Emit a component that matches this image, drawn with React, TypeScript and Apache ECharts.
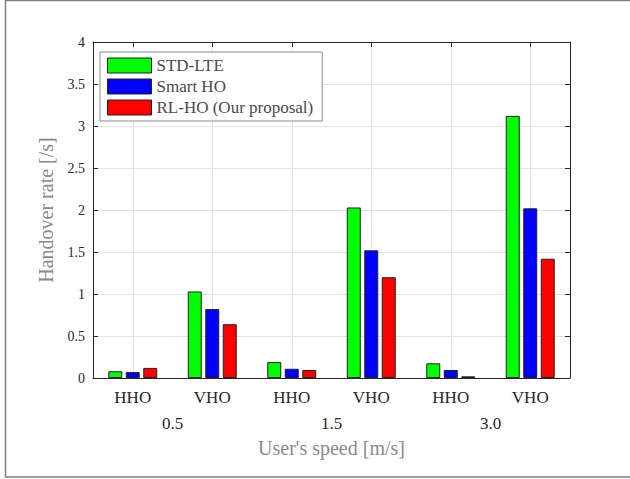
import React, { useEffect, useRef } from "react";
import * as echarts from "echarts";

const categories = ["HHO", "VHO", "HHO", "VHO", "HHO", "VHO"];
const speeds = ["0.5", "1.5", "3.0"];
const seriesNames = ["STD-LTE", "Smart HO", "RL-HO (Our proposal)"];
const stdLte = [0.08, 1.03, 0.19, 2.03, 0.175, 3.12];
const smartHo = [0.07, 0.82, 0.11, 1.52, 0.095, 2.02];
const rlHo = [0.12, 0.64, 0.095, 1.2, 0.02, 1.42];
const colors = ["#00ff00", "#0000ff", "#ff0000"];

const FONT = "Liberation Serif";

export default function App() {
  const ref = useRef<HTMLDivElement>(null);
  useEffect(() => {
    if (!ref.current) return;
    const chart = echarts.init(ref.current, null, { renderer: "svg" });
    const values = [stdLte, smartHo, rlHo];
    const axisLineStyle = { color: "#262626", width: 1 };
    chart.setOption({
      animation: false,
      backgroundColor: "#ffffff",
      graphic: [
        {
          type: "rect",
          shape: { x: 5.5, y: 0.5, width: 700, height: 476.5 },
          style: { fill: "none", stroke: "#808080", lineWidth: 1.5 },
          silent: true,
          z: -10,
        },
      ],
      grid: { left: 93, top: 42, width: 477, height: 336, containLabel: false },
      legend: {
        data: seriesNames,
        orient: "vertical",
        left: 100,
        top: 52,
        padding: [5, 9, 5, 7],
        itemWidth: 44,
        itemHeight: 15,
        itemGap: 4,
        icon: "rect",
        borderColor: "#8c8c8c",
        borderWidth: 1,
        backgroundColor: "#ffffff",
        textStyle: { fontFamily: FONT, fontSize: 17, color: "#4a4a4a", lineHeight: 16 },
        itemStyle: { borderColor: "#222222", borderWidth: 1 },
      },
      xAxis: [
        {
          type: "category",
          data: categories,
          position: "bottom",
          axisLine: { show: true, lineStyle: axisLineStyle },
          axisTick: { show: true, inside: true, alignWithLabel: true, length: 5, lineStyle: axisLineStyle },
          axisLabel: { fontFamily: FONT, fontSize: 17, color: "#262626", margin: 11 },
          splitLine: { show: true, alignWithLabel: true, lineStyle: { color: "#e3e3e3", width: 1 } },
          name: "User's speed [m/s]",
          nameLocation: "middle",
          nameGap: 60,
          nameTextStyle: { fontFamily: FONT, fontSize: 20, color: "#8a8a8a" },
        },
        {
          type: "category",
          data: speeds,
          position: "bottom",
          axisLine: { show: false },
          axisTick: { show: false },
          axisLabel: { fontFamily: FONT, fontSize: 17, color: "#262626", margin: 37 },
          splitLine: { show: false },
        },
        {
          type: "category",
          data: categories,
          position: "top",
          axisLine: { show: true, lineStyle: axisLineStyle },
          axisTick: { show: true, inside: true, alignWithLabel: true, length: 5, lineStyle: axisLineStyle },
          axisLabel: { show: false },
          splitLine: { show: false },
        },
      ],
      yAxis: [
        {
          type: "value",
          min: 0,
          max: 4,
          interval: 0.5,
          position: "left",
          axisLine: { show: true, lineStyle: axisLineStyle },
          axisTick: { show: true, inside: true, length: 5, lineStyle: axisLineStyle },
          axisLabel: { fontFamily: FONT, fontSize: 14, color: "#262626", margin: 8 },
          splitLine: { show: true, lineStyle: { color: "#e3e3e3", width: 1 } },
          name: "Handover rate [/s]",
          nameLocation: "middle",
          nameGap: 37,
          nameTextStyle: { fontFamily: FONT, fontSize: 20, color: "#8a8a8a" },
        },
        {
          type: "value",
          min: 0,
          max: 4,
          interval: 0.5,
          position: "right",
          axisLine: { show: true, lineStyle: axisLineStyle },
          axisTick: { show: true, inside: true, length: 5, lineStyle: axisLineStyle },
          axisLabel: { show: false },
          splitLine: { show: false },
        },
      ],
      series: seriesNames.map((name, i) => ({
        name,
        type: "bar",
        xAxisIndex: 0,
        yAxisIndex: 0,
        data: values[i],
        barWidth: 14,
        barGap: "25%",
        itemStyle: { color: colors[i], borderColor: "#222222", borderWidth: 1 },
      })),
    });
    return () => chart.dispose();
  }, []);
  return (
    <div
      ref={ref}
      style={{ position: "absolute", left: 0, top: 0, width: 630, height: 479 }}
    />
  );
}
